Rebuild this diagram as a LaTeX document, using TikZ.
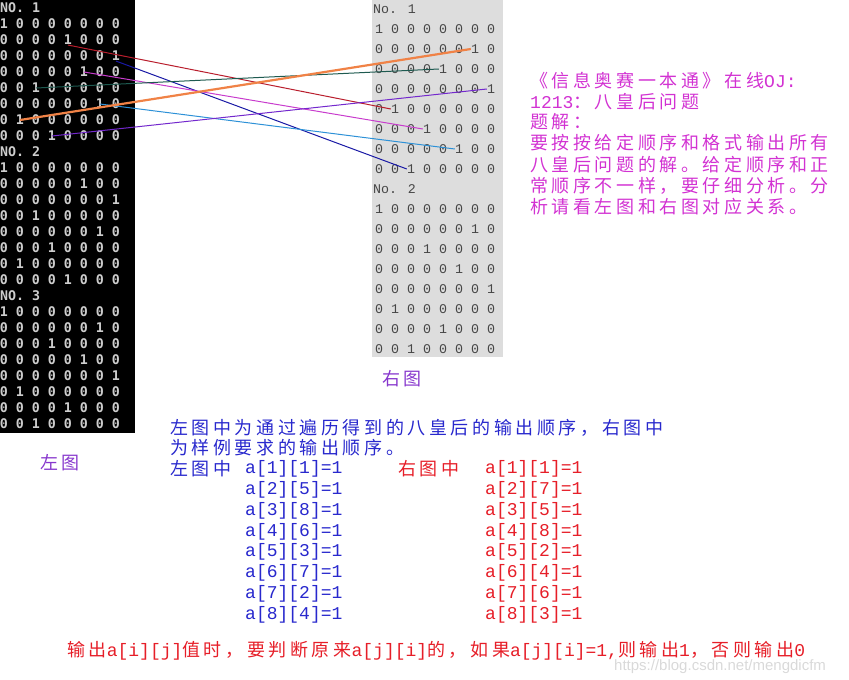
\documentclass[tikz,border=0pt]{standalone}
\usepackage{fontspec}
\newfontfamily\cjkf[LetterSpace=20]{Noto Sans CJK SC}
\newfontfamily\latf{Liberation Mono}
\newfontfamily\conf{DejaVu Sans Mono}
\newfontfamily\wmf{Liberation Sans}
\definecolor{lgray}{RGB}{205,205,205}
\definecolor{panelgray}{RGB}{221,221,221}
\definecolor{rdigc}{RGB}{70,70,70}
\definecolor{cred}{RGB}{185,30,45}
\definecolor{cnavy}{RGB}{25,25,165}
\definecolor{cmag}{RGB}{200,60,205}
\definecolor{cteal}{RGB}{30,90,80}
\definecolor{cblue}{RGB}{45,145,215}
\definecolor{corange}{RGB}{240,130,70}
\definecolor{cpurple}{RGB}{115,40,205}
\definecolor{tpurple}{RGB}{210,50,210}
\definecolor{tviolet}{RGB}{135,55,205}
\definecolor{tblue}{RGB}{40,40,205}
\definecolor{tred}{RGB}{230,30,40}
\begin{document}
\begin{tikzpicture}[x=1pt,y=-1pt,
  ldig/.style={font=\conf\bfseries\fontsize{13.3}{16}\selectfont, text=lgray, inner sep=0pt, anchor=center},
  lhead/.style={font=\conf\bfseries\fontsize{13.3}{16}\selectfont, text=lgray, inner sep=0pt, anchor=west},
  rdig/.style={font=\latf\fontsize{13.3}{16}\selectfont, text=rdigc, inner sep=0pt, anchor=center},
  rhead/.style={font=\latf\fontsize{13.3}{16}\selectfont, text=rdigc, inner sep=0pt, anchor=west},
  zh/.style={font=\fontsize{18}{20}\selectfont, inner sep=0pt, anchor=west},
  conn/.style={line width=1pt},
  wm/.style={font=\wmf\fontsize{15}{17}\selectfont, text=black!15, inner sep=0pt, anchor=west}]
\useasboundingbox (0,0) rectangle (849,680);
% panels
\fill[black] (0,0) rectangle (135,433);
\fill[panelgray] (372,0) rectangle (503,357);
% left matrices
\node[lhead] (LH1) at (0,8) {NO. 1};
\node[lhead] (LH2) at (0,152) {NO. 2};
\node[lhead] (LH3) at (0,296) {NO. 3};
\foreach \qq [count=\rw] in {1,5,8,6,3,7,2,4,1,6,8,3,7,4,2,5,1,7,4,6,8,2,5,3} {
  \pgfmathtruncatemacro{\lnum}{\rw + int((\rw-1)/8)}
  \foreach \cl in {1,...,8} {
    \pgfmathtruncatemacro{\dig}{\cl==\qq ? 1 : 0}
    \node[ldig] (L-\rw-\cl) at ({4+16*(\cl-1)}, {8+16*\lnum}) {\dig};
  }
}
% right matrices
\node[rhead] (RH1) at (373,9) {No. 1};
\node[rhead] (RH2) at (373,189) {No. 2};
\foreach \qq [count=\rw] in {1,7,5,8,2,4,6,3,1,7,4,6,8,2,5,3} {
  \pgfmathtruncatemacro{\lnum}{\rw + int((\rw-1)/8)}
  \foreach \cl in {1,...,8} {
    \pgfmathtruncatemacro{\dig}{\cl==\qq ? 1 : 0}
    \node[rdig] (R-\rw-\cl) at ({379+16*(\cl-1)}, {9+20*\lnum}) {\dig};
  }
}
% connectors
\draw[conn, cred] (L-2-5.south) -- (R-5-2.west);
\draw[conn, cnavy] (L-3-8.south) -- (R-8-3.west);
\draw[conn, cmag] (L-4-6.center) -- (R-6-4.west);
\draw[conn, cteal] (L-5-3.center) -- (R-3-5.west);
\draw[conn, cblue] (L-6-7.center) -- (R-7-6.west);
\draw[conn, cpurple] (L-8-4.center) -- (R-4-8.west);
\draw[line width=2.2pt, corange] (L-7-2.center) -- (R-2-7.west);
% labels
\node[zh, text=tviolet] (leftlbl) at (40,463) {\cjkf 左图};
\node[zh, text=tviolet] (rightlbl) at (382,379) {\cjkf 右图};
% purple block
\node[zh, text=tpurple] (p1) at (530,81) {{\cjkf 《信息奥赛一本通》在线}{\latf OJ:}};
\node[zh, text=tpurple] (p2) at (530,102) {{\latf 1213}{\cjkf ：八皇后问题}};
\node[zh, text=tpurple] (p3) at (530,122) {\cjkf 题解：};
\node[zh, text=tpurple] (p4) at (530,143) {\cjkf 要按按给定顺序和格式输出所有};
\node[zh, text=tpurple] (p5) at (530,165) {\cjkf 八皇后问题的解。给定顺序和正};
\node[zh, text=tpurple] (p6) at (530,186) {\cjkf 常顺序不一样，要仔细分析。分};
\node[zh, text=tpurple] (p7) at (530,207) {\cjkf 析请看左图和右图对应关系。};
% blue text
\node[zh, text=tblue] (b1) at (170,428) {\cjkf 左图中为通过遍历得到的八皇后的输出顺序，右图中};
\node[zh, text=tblue] (b2) at (170,448) {\cjkf 为样例要求的输出顺序。};
\node[zh, text=tblue] (b3) at (170,469) {\cjkf 左图中};
\node[zh, text=tred] (r3) at (398,469) {\cjkf 右图中};
\foreach \qq [count=\k] in {1,5,8,6,3,7,2,4} {
  \node[zh, text=tblue] (ba-\k) at (245,{469+20.8*(\k-1)}) {\latf a[\k][\qq]=1};
}
\foreach \qq [count=\k] in {1,7,5,8,2,4,6,3} {
  \node[zh, text=tred] (ra-\k) at (485,{469+20.8*(\k-1)}) {\latf a[\k][\qq]=1};
}
% watermark and bottom line
\node[wm] (wmark) at (614,667) {https://blog.csdn.net/mengdicfm};
\node[zh, text=tred] (bottom) at (67,651) {{\cjkf 输出}{\latf a[i][j]}{\cjkf 值时，要判断原来}{\latf a[j][i]}{\cjkf 的，如果}{\latf a[j][i]=1,}{\cjkf 则输出}{\latf 1}{\cjkf ，否则输出}{\latf 0}};
\end{tikzpicture}
\end{document}
